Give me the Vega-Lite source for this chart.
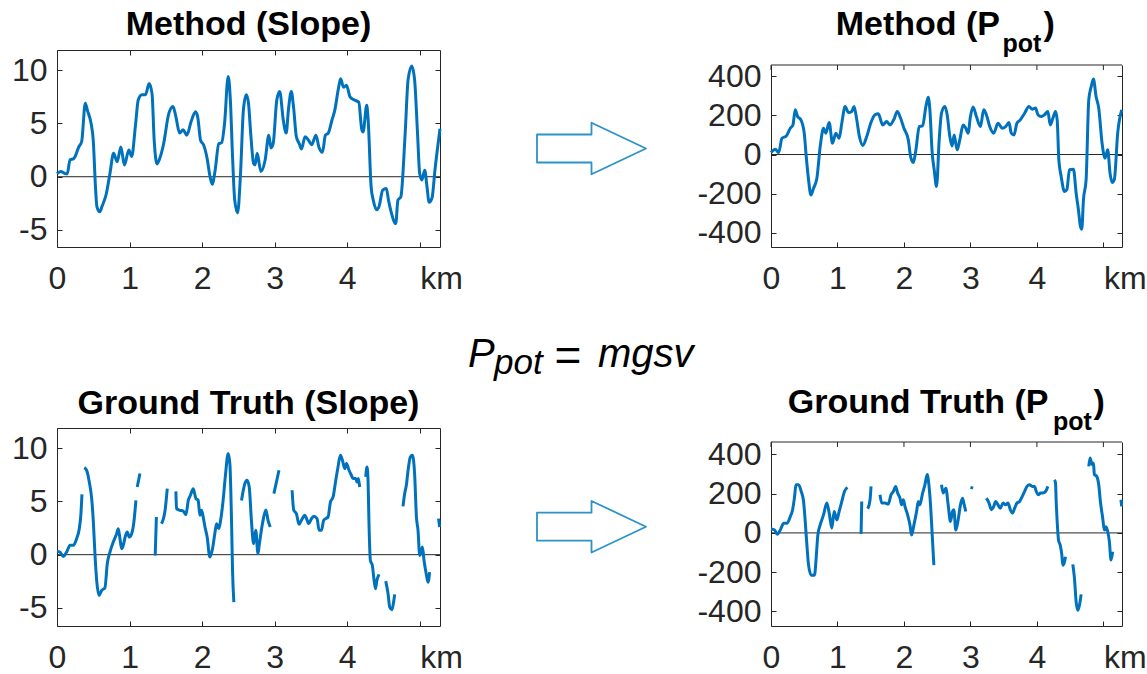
{
  "$schema": "https://vega.github.io/schema/vega-lite/v6.json",
  "background": "white",
  "padding": {"left": 11, "top": 8, "right": 0, "bottom": 0},
  "config": {
    "view": {"stroke": null},
    "axis": {"grid": false, "domainColor": "#262626", "domainWidth": 1, "tickColor": "#262626", "tickWidth": 1, "tickSize": -5, "labelColor": "#262626", "labelFont": "Liberation Sans", "labelFontSize": 32, "labelFlush": false, "labelOverlap": false, "labelBound": false}
  },
  "datasets": {
    "ms": [
      {"km":0,"v":0.3},{"km":0.05,"v":0.5},{"km":0.11,"v":0.3},{"km":0.14,"v":0.25},{"km":0.18,"v":1.6},{"km":0.23,"v":1.7},{"km":0.25,"v":1.9},{"km":0.3,"v":2.8},{"km":0.34,"v":3.3},{"km":0.39,"v":6.9},{"km":0.42,"v":6.2},{"km":0.47,"v":5.0},{"km":0.5,"v":3.4},{"km":0.53,"v":-0.9},{"km":0.55,"v":-2.8},{"km":0.59,"v":-3.3},{"km":0.62,"v":-2.8},{"km":0.68,"v":-1.6},{"km":0.73,"v":0.3},{"km":0.78,"v":2.2},{"km":0.83,"v":1.4},{"km":0.88,"v":2.8},{"km":0.93,"v":1.1},{"km":0.99,"v":2.5},{"km":1.03,"v":1.9},{"km":1.08,"v":4.7},{"km":1.12,"v":7.2},{"km":1.17,"v":7.7},{"km":1.22,"v":7.7},{"km":1.27,"v":8.75},{"km":1.31,"v":7.8},{"km":1.34,"v":3.4},{"km":1.38,"v":1.2},{"km":1.41,"v":1.6},{"km":1.47,"v":3.1},{"km":1.54,"v":5.9},{"km":1.6,"v":6.6},{"km":1.64,"v":5.6},{"km":1.69,"v":4.1},{"km":1.74,"v":4.4},{"km":1.79,"v":3.9},{"km":1.85,"v":5.2},{"km":1.91,"v":6.1},{"km":1.94,"v":5.6},{"km":1.98,"v":3.4},{"km":2.02,"v":3.0},{"km":2.07,"v":1.7},{"km":2.11,"v":0},{"km":2.14,"v":-0.7},{"km":2.18,"v":0.6},{"km":2.23,"v":3.1},{"km":2.27,"v":3.2},{"km":2.31,"v":5.0},{"km":2.36,"v":9.4},{"km":2.39,"v":7.2},{"km":2.42,"v":1.9},{"km":2.45,"v":-2.2},{"km":2.49,"v":-3.4},{"km":2.53,"v":0.3},{"km":2.57,"v":6.3},{"km":2.61,"v":7.7},{"km":2.64,"v":6.9},{"km":2.67,"v":4.1},{"km":2.71,"v":1.25},{"km":2.73,"v":1.1},{"km":2.76,"v":2.2},{"km":2.81,"v":0.5},{"km":2.87,"v":1.6},{"km":2.92,"v":3.9},{"km":2.95,"v":2.7},{"km":2.98,"v":3.1},{"km":3.03,"v":7.2},{"km":3.07,"v":8.0},{"km":3.12,"v":5.3},{"km":3.16,"v":4.1},{"km":3.19,"v":6.25},{"km":3.23,"v":8.0},{"km":3.26,"v":6.6},{"km":3.3,"v":3.75},{"km":3.34,"v":3.1},{"km":3.37,"v":2.6},{"km":3.42,"v":3.75},{"km":3.47,"v":3.4},{"km":3.51,"v":3.0},{"km":3.57,"v":3.9},{"km":3.61,"v":2.8},{"km":3.66,"v":2.3},{"km":3.7,"v":3.9},{"km":3.74,"v":4.1},{"km":3.79,"v":5.3},{"km":3.83,"v":6.25},{"km":3.88,"v":8.3},{"km":3.91,"v":9.2},{"km":3.95,"v":8.4},{"km":3.99,"v":8.6},{"km":4.04,"v":7.5},{"km":4.1,"v":7.2},{"km":4.16,"v":7.0},{"km":4.2,"v":4.5},{"km":4.22,"v":4.2},{"km":4.27,"v":6.7},{"km":4.29,"v":5.3},{"km":4.33,"v":-0.9},{"km":4.36,"v":-2.2},{"km":4.41,"v":-3.1},{"km":4.44,"v":-2.8},{"km":4.49,"v":-1.25},{"km":4.54,"v":-1.1},{"km":4.57,"v":-2.2},{"km":4.61,"v":-3.4},{"km":4.67,"v":-4.4},{"km":4.7,"v":-2.2},{"km":4.74,"v":-1.9},{"km":4.8,"v":4.1},{"km":4.84,"v":9.1},{"km":4.89,"v":10.4},{"km":4.93,"v":9.1},{"km":4.97,"v":4.1},{"km":5.0,"v":0.3},{"km":5.03,"v":-0.3},{"km":5.07,"v":0.6},{"km":5.1,"v":-0.9},{"km":5.13,"v":-2.4},{"km":5.17,"v":-2.0},{"km":5.21,"v":0.6},{"km":5.28,"v":4.5}
    ],
    "mp": [
      {"km":0,"v":10},{"km":0.065,"v":27},{"km":0.115,"v":10},{"km":0.165,"v":83},{"km":0.23,"v":95},{"km":0.29,"v":134},{"km":0.33,"v":151},{"km":0.365,"v":228},{"km":0.4,"v":194},{"km":0.45,"v":177},{"km":0.5,"v":109},{"km":0.53,"v":-10},{"km":0.565,"v":-129},{"km":0.6,"v":-206},{"km":0.64,"v":-172},{"km":0.69,"v":-121},{"km":0.74,"v":41},{"km":0.79,"v":134},{"km":0.825,"v":109},{"km":0.875,"v":163},{"km":0.925,"v":58},{"km":0.975,"v":109},{"km":1.025,"v":83},{"km":1.065,"v":160},{"km":1.115,"v":245},{"km":1.165,"v":214},{"km":1.215,"v":220},{"km":1.25,"v":245},{"km":1.29,"v":177},{"km":1.33,"v":92},{"km":1.38,"v":46},{"km":1.44,"v":92},{"km":1.5,"v":160},{"km":1.565,"v":203},{"km":1.615,"v":208},{"km":1.68,"v":151},{"km":1.74,"v":168},{"km":1.79,"v":151},{"km":1.85,"v":180},{"km":1.9,"v":220},{"km":1.95,"v":185},{"km":2.0,"v":134},{"km":2.065,"v":75},{"km":2.1,"v":-10},{"km":2.14,"v":-41},{"km":2.18,"v":24},{"km":2.23,"v":143},{"km":2.28,"v":146},{"km":2.33,"v":245},{"km":2.365,"v":293},{"km":2.39,"v":228},{"km":2.425,"v":7},{"km":2.455,"v":-78},{"km":2.49,"v":-163},{"km":2.53,"v":75},{"km":2.565,"v":211},{"km":2.615,"v":245},{"km":2.65,"v":203},{"km":2.69,"v":92},{"km":2.725,"v":44},{"km":2.755,"v":100},{"km":2.8,"v":24},{"km":2.84,"v":75},{"km":2.89,"v":151},{"km":2.93,"v":134},{"km":2.965,"v":109},{"km":3.0,"v":194},{"km":3.04,"v":242},{"km":3.09,"v":194},{"km":3.15,"v":143},{"km":3.2,"v":228},{"km":3.24,"v":203},{"km":3.29,"v":143},{"km":3.35,"v":109},{"km":3.415,"v":160},{"km":3.48,"v":134},{"km":3.53,"v":143},{"km":3.58,"v":163},{"km":3.615,"v":109},{"km":3.655,"v":100},{"km":3.7,"v":160},{"km":3.75,"v":177},{"km":3.815,"v":211},{"km":3.88,"v":245},{"km":3.93,"v":231},{"km":3.98,"v":237},{"km":4.015,"v":203},{"km":4.065,"v":194},{"km":4.115,"v":203},{"km":4.165,"v":220},{"km":4.2,"v":151},{"km":4.24,"v":185},{"km":4.28,"v":220},{"km":4.305,"v":177},{"km":4.33,"v":-27},{"km":4.365,"v":-112},{"km":4.415,"v":-189},{"km":4.45,"v":-180},{"km":4.49,"v":-78},{"km":4.55,"v":-75},{"km":4.59,"v":-197},{"km":4.625,"v":-283},{"km":4.655,"v":-368},{"km":4.675,"v":-381},{"km":4.7,"v":-231},{"km":4.74,"v":-129},{"km":4.78,"v":279},{"km":4.815,"v":344},{"km":4.85,"v":385},{"km":4.89,"v":296},{"km":4.93,"v":237},{"km":4.98,"v":58},{"km":5.025,"v":-19},{"km":5.065,"v":24},{"km":5.1,"v":-95},{"km":5.13,"v":-143},{"km":5.165,"v":-126},{"km":5.215,"v":109},{"km":5.275,"v":228}
    ],
    "gs": [
      {"km":0,"v":0.31,"s":"A"},{"km":0.04,"v":0.25,"s":"A"},{"km":0.087,"v":-0.16,"s":"A"},{"km":0.133,"v":0.25,"s":"A"},{"km":0.18,"v":0.88,"s":"A"},{"km":0.225,"v":0.88,"s":"A"},{"km":0.27,"v":1.5,"s":"A"},{"km":0.307,"v":2.44,"s":"A"},{"km":0.33,"v":3.86,"s":"A"},{"km":0.344,"v":5.67,"s":"A"},
      {"km":0.376,"v":8.18,"s":"B"},{"km":0.409,"v":7.93,"s":"B"},{"km":0.445,"v":6.83,"s":"B"},{"km":0.478,"v":5.27,"s":"B"},{"km":0.5,"v":3.23,"s":"B"},{"km":0.523,"v":0.09,"s":"B"},{"km":0.547,"v":-2.42,"s":"B"},{"km":0.579,"v":-3.83,"s":"B"},{"km":0.616,"v":-3.36,"s":"B"},{"km":0.661,"v":-3.1,"s":"B"},{"km":0.693,"v":-0.85,"s":"B"},{"km":0.73,"v":0.25,"s":"B"},{"km":0.776,"v":1.19,"s":"B"},{"km":0.822,"v":1.97,"s":"B"},{"km":0.845,"v":2.44,"s":"B"},{"km":0.868,"v":1.5,"s":"B"},{"km":0.891,"v":0.56,"s":"B"},{"km":0.913,"v":0.88,"s":"B"},{"km":0.946,"v":1.82,"s":"B"},{"km":0.968,"v":2.13,"s":"B"},{"km":0.996,"v":1.66,"s":"B"},{"km":1.029,"v":1.97,"s":"B"},{"km":1.06,"v":3.07,"s":"B"},{"km":1.088,"v":5.11,"s":"B"},
      {"km":1.106,"v":6.36,"s":"C"},{"km":1.143,"v":7.62,"s":"C"},
      {"km":1.354,"v":-0.07,"s":"D"},{"km":1.37,"v":3.54,"s":"D"},
      {"km":1.44,"v":2.9,"s":"E"},{"km":1.49,"v":4.17,"s":"E"},{"km":1.52,"v":6.2,"s":"E"},
      {"km":1.639,"v":5.95,"s":"F"},{"km":1.648,"v":4.33,"s":"F"},{"km":1.694,"v":4.17,"s":"F"},{"km":1.74,"v":4.1,"s":"F"},{"km":1.777,"v":3.76,"s":"F"},{"km":1.81,"v":5.1,"s":"F"},{"km":1.84,"v":5.58,"s":"F"},{"km":1.878,"v":6.2,"s":"F"},{"km":1.915,"v":5.27,"s":"F"},{"km":1.946,"v":5.1,"s":"F"},{"km":1.97,"v":3.7,"s":"F"},{"km":1.993,"v":4.17,"s":"F"},{"km":2.015,"v":3.55,"s":"F"},{"km":2.04,"v":2.6,"s":"F"},{"km":2.07,"v":1.66,"s":"F"},{"km":2.107,"v":-0.22,"s":"F"},{"km":2.144,"v":0.56,"s":"F"},{"km":2.176,"v":2.0,"s":"F"},{"km":2.2,"v":2.9,"s":"F"},{"km":2.23,"v":2.45,"s":"F"},{"km":2.255,"v":3.2,"s":"F"},{"km":2.29,"v":5.1,"s":"F"},{"km":2.32,"v":7.3,"s":"F"},{"km":2.36,"v":9.5,"s":"F"},{"km":2.383,"v":8.56,"s":"F"},{"km":2.406,"v":3.2,"s":"F"},{"km":2.42,"v":-1.48,"s":"F"},{"km":2.438,"v":-4.46,"s":"F"},
      {"km":2.544,"v":5.1,"s":"G"},{"km":2.59,"v":6.68,"s":"G"},{"km":2.62,"v":6.99,"s":"G"},{"km":2.65,"v":6.36,"s":"G"},{"km":2.68,"v":3.23,"s":"G"},{"km":2.71,"v":1.03,"s":"G"},{"km":2.74,"v":2.29,"s":"G"},{"km":2.77,"v":0.1,"s":"G"},{"km":2.79,"v":1.03,"s":"G"},{"km":2.84,"v":3.2,"s":"G"},{"km":2.88,"v":4.2,"s":"G"},{"km":2.91,"v":3.2,"s":"G"},{"km":2.94,"v":2.6,"s":"G"},
      {"km":2.99,"v":5.74,"s":"H"},{"km":3.06,"v":7.93,"s":"H"},
      {"km":3.241,"v":6.05,"s":"I"},{"km":3.264,"v":4.17,"s":"I"},{"km":3.3,"v":3.86,"s":"I"},{"km":3.337,"v":2.85,"s":"I"},{"km":3.37,"v":3.23,"s":"I"},{"km":3.416,"v":3.7,"s":"I"},{"km":3.44,"v":3.39,"s":"I"},{"km":3.47,"v":2.92,"s":"I"},{"km":3.508,"v":3.39,"s":"I"},{"km":3.54,"v":3.6,"s":"I"},{"km":3.585,"v":3.39,"s":"I"},{"km":3.613,"v":2.29,"s":"I"},{"km":3.645,"v":2.29,"s":"I"},{"km":3.677,"v":3.23,"s":"I"},{"km":3.705,"v":3.39,"s":"I"},{"km":3.737,"v":3.54,"s":"I"},{"km":3.77,"v":4.95,"s":"I"},{"km":3.806,"v":5.42,"s":"I"},{"km":3.843,"v":6.99,"s":"I"},{"km":3.874,"v":8.24,"s":"I"},{"km":3.907,"v":9.34,"s":"I"},{"km":3.935,"v":8.87,"s":"I"},{"km":3.967,"v":8.09,"s":"I"},{"km":3.99,"v":8.56,"s":"I"},{"km":4.026,"v":7.93,"s":"I"},{"km":4.058,"v":7.46,"s":"I"},{"km":4.08,"v":7.15,"s":"I"},{"km":4.118,"v":7.15,"s":"I"},{"km":4.136,"v":6.83,"s":"I"},{"km":4.155,"v":7.15,"s":"I"},{"km":4.173,"v":6.36,"s":"I"},
      {"km":4.256,"v":7.3,"s":"J"},{"km":4.274,"v":8.24,"s":"J"},{"km":4.288,"v":6.99,"s":"J"},{"km":4.3,"v":3.23,"s":"J"},{"km":4.32,"v":-0.54,"s":"J"},{"km":4.347,"v":-1.0,"s":"J"},{"km":4.366,"v":-2.1,"s":"J"},{"km":4.39,"v":-3.2,"s":"J"},{"km":4.41,"v":-2.42,"s":"J"},{"km":4.44,"v":-1.85,"s":"J"},
      {"km":4.532,"v":-2.48,"s":"K"},{"km":4.564,"v":-3.67,"s":"K"},{"km":4.587,"v":-4.93,"s":"K"},{"km":4.618,"v":-5.17,"s":"K"},{"km":4.64,"v":-4.46,"s":"K"},{"km":4.655,"v":-3.73,"s":"K"},
      {"km":4.77,"v":4.54,"s":"L"},{"km":4.793,"v":5.74,"s":"L"},{"km":4.816,"v":6.52,"s":"L"},{"km":4.84,"v":7.93,"s":"L"},{"km":4.871,"v":9.18,"s":"L"},{"km":4.899,"v":9.34,"s":"L"},{"km":4.93,"v":7.62,"s":"L"},{"km":4.955,"v":3.54,"s":"L"},{"km":4.977,"v":2.29,"s":"L"},{"km":5.0,"v":-0.07,"s":"L"},{"km":5.024,"v":0.4,"s":"L"},{"km":5.037,"v":0.71,"s":"L"},{"km":5.06,"v":-0.54,"s":"L"},{"km":5.09,"v":-1.79,"s":"L"},{"km":5.115,"v":-2.58,"s":"L"},{"km":5.137,"v":-1.64,"s":"L"},
      {"km":5.26,"v":3.39,"s":"M"},{"km":5.275,"v":2.6,"s":"M"}
    ],
    "gp": [
      {"km":0,"v":20,"s":"A"},{"km":0.054,"v":15,"s":"A"},{"km":0.095,"v":-7,"s":"A"},{"km":0.14,"v":15,"s":"A"},{"km":0.19,"v":49,"s":"A"},{"km":0.24,"v":49,"s":"A"},{"km":0.29,"v":83,"s":"A"},{"km":0.325,"v":118,"s":"A"},{"km":0.355,"v":186,"s":"A"},{"km":0.375,"v":245,"s":"A"},{"km":0.415,"v":245,"s":"A"},{"km":0.455,"v":211,"s":"A"},{"km":0.49,"v":160,"s":"A"},{"km":0.515,"v":58,"s":"A"},{"km":0.54,"v":-61,"s":"A"},{"km":0.565,"v":-164,"s":"A"},{"km":0.605,"v":-215,"s":"A"},{"km":0.655,"v":-215,"s":"A"},{"km":0.675,"v":-147,"s":"A"},{"km":0.705,"v":-10,"s":"A"},{"km":0.74,"v":41,"s":"A"},{"km":0.79,"v":92,"s":"A"},{"km":0.84,"v":152,"s":"A"},{"km":0.88,"v":92,"s":"A"},{"km":0.915,"v":24,"s":"A"},{"km":0.95,"v":109,"s":"A"},{"km":0.99,"v":66,"s":"A"},{"km":1.025,"v":109,"s":"A"},{"km":1.065,"v":160,"s":"A"},{"km":1.105,"v":211,"s":"A"},{"km":1.15,"v":232,"s":"A"},
      {"km":1.355,"v":-5,"s":"B"},{"km":1.365,"v":160,"s":"B"},
      {"km":1.455,"v":123,"s":"C"},{"km":1.49,"v":169,"s":"C"},{"km":1.505,"v":237,"s":"C"},
      {"km":1.64,"v":194,"s":"D"},{"km":1.665,"v":152,"s":"D"},{"km":1.715,"v":152,"s":"D"},{"km":1.765,"v":147,"s":"D"},{"km":1.805,"v":194,"s":"D"},{"km":1.84,"v":211,"s":"D"},{"km":1.875,"v":237,"s":"D"},{"km":1.905,"v":203,"s":"D"},{"km":1.94,"v":177,"s":"D"},{"km":1.965,"v":143,"s":"D"},{"km":1.99,"v":169,"s":"D"},{"km":2.015,"v":135,"s":"D"},{"km":2.055,"v":92,"s":"D"},{"km":2.09,"v":41,"s":"D"},{"km":2.115,"v":-10,"s":"D"},{"km":2.15,"v":41,"s":"D"},{"km":2.19,"v":109,"s":"D"},{"km":2.215,"v":160,"s":"D"},{"km":2.24,"v":143,"s":"D"},{"km":2.275,"v":194,"s":"D"},{"km":2.315,"v":245,"s":"D"},{"km":2.35,"v":297,"s":"D"},{"km":2.375,"v":245,"s":"D"},{"km":2.4,"v":143,"s":"D"},{"km":2.425,"v":-10,"s":"D"},{"km":2.45,"v":-164,"s":"D"},
      {"km":2.565,"v":245,"s":"E"},{"km":2.59,"v":203,"s":"E"},{"km":2.63,"v":228,"s":"E"},{"km":2.665,"v":143,"s":"E"},{"km":2.7,"v":58,"s":"E"},{"km":2.73,"v":109,"s":"E"},{"km":2.75,"v":118,"s":"E"},{"km":2.78,"v":15,"s":"E"},{"km":2.815,"v":66,"s":"E"},{"km":2.85,"v":143,"s":"E"},{"km":2.88,"v":177,"s":"E"},{"km":2.9,"v":152,"s":"E"},{"km":2.93,"v":109,"s":"E"},
      {"km":3.0,"v":232,"s":"F"},{"km":3.04,"v":228,"s":"F"},
      {"km":3.24,"v":177,"s":"G"},{"km":3.28,"v":152,"s":"G"},{"km":3.315,"v":118,"s":"G"},{"km":3.35,"v":135,"s":"G"},{"km":3.38,"v":160,"s":"G"},{"km":3.415,"v":143,"s":"G"},{"km":3.45,"v":126,"s":"G"},{"km":3.49,"v":152,"s":"G"},{"km":3.53,"v":143,"s":"G"},{"km":3.565,"v":152,"s":"G"},{"km":3.6,"v":118,"s":"G"},{"km":3.63,"v":101,"s":"G"},{"km":3.665,"v":126,"s":"G"},{"km":3.7,"v":152,"s":"G"},{"km":3.74,"v":160,"s":"G"},{"km":3.78,"v":186,"s":"G"},{"km":3.815,"v":211,"s":"G"},{"km":3.85,"v":237,"s":"G"},{"km":3.89,"v":245,"s":"G"},{"km":3.93,"v":237,"s":"G"},{"km":3.965,"v":237,"s":"G"},{"km":3.99,"v":211,"s":"G"},{"km":4.025,"v":194,"s":"G"},{"km":4.055,"v":203,"s":"G"},{"km":4.09,"v":203,"s":"G"},{"km":4.13,"v":211,"s":"G"},{"km":4.165,"v":237,"s":"G"},
      {"km":4.265,"v":271,"s":"H"},{"km":4.28,"v":254,"s":"H"},{"km":4.29,"v":160,"s":"H"},{"km":4.305,"v":58,"s":"H"},{"km":4.325,"v":-36,"s":"H"},{"km":4.35,"v":-61,"s":"H"},{"km":4.375,"v":-112,"s":"H"},{"km":4.39,"v":-164,"s":"H"},{"km":4.415,"v":-147,"s":"H"},{"km":4.43,"v":-121,"s":"H"},
      {"km":4.54,"v":-160,"s":"I"},{"km":4.565,"v":-232,"s":"I"},{"km":4.59,"v":-351,"s":"I"},{"km":4.615,"v":-394,"s":"I"},{"km":4.64,"v":-368,"s":"I"},{"km":4.665,"v":-313,"s":"I"},
      {"km":4.78,"v":339,"s":"J"},{"km":4.8,"v":382,"s":"J"},{"km":4.83,"v":348,"s":"J"},{"km":4.85,"v":356,"s":"J"},{"km":4.865,"v":297,"s":"J"},{"km":4.9,"v":288,"s":"J"},{"km":4.93,"v":245,"s":"J"},{"km":4.955,"v":160,"s":"J"},{"km":4.99,"v":75,"s":"J"},{"km":5.015,"v":15,"s":"J"},{"km":5.04,"v":32,"s":"J"},{"km":5.065,"v":7,"s":"J"},{"km":5.09,"v":-44,"s":"J"},{"km":5.115,"v":-138,"s":"J"},{"km":5.14,"v":-95,"s":"J"},
      {"km":5.265,"v":169,"s":"K"},{"km":5.275,"v":135,"s":"K"}
    ]
  },
  "concat": [
    {
      "width": 383, "height": 197,
      "layer": [
        {"data": {"values": [{}]}, "mark": {"type": "rule", "color": "#262626", "strokeWidth": 1},
         "encoding": {"y": {"datum": 0, "type": "quantitative", "scale": {"domain": [-6.6, 11.9], "nice": false, "zero": false}, "axis": null}}},
        {"data": {"name": "ms"}, "mark": {"type": "line", "color": "#0072BD", "strokeWidth": 3, "interpolate": "monotone"},
         "encoding": {
           "x": {"field": "km", "type": "quantitative", "scale": {"domain": [0, 5.28], "nice": false, "zero": false}, "axis": {"orient": "bottom", "title": null, "values": [0,1,2,3,4,5], "labelExpr": "datum.value == 5 ? 'km' : datum.label", "labelAlign": {"condition": {"test": "datum.value == 5", "value": "left"}, "value": "center"}, "labelPadding": 21}},
           "y": {"field": "v", "type": "quantitative", "scale": {"domain": [-6.6, 11.9], "nice": false, "zero": false}, "axis": {"orient": "left", "title": null, "values": [-5,0,5,10], "labelExpr": "'' + datum.value", "labelPadding": 15}}}},
        {"data": {"values": [{}]}, "mark": {"type": "text", "text": "Method (Slope)", "font": "Liberation Sans", "fontSize": 34, "fontWeight": "bold", "align": "center", "baseline": "alphabetic", "dy": -15, "color": "#000000"},
         "encoding": {
           "x": {"datum": 2.64, "type": "quantitative", "scale": {"domain": [0, 5.28], "nice": false, "zero": false}, "axis": {"orient": "top", "title": null, "values": [0,1,2,3,4,5], "labels": false}},
           "y": {"datum": 11.9, "type": "quantitative", "scale": {"domain": [-6.6, 11.9], "nice": false, "zero": false}, "axis": {"orient": "right", "title": null, "values": [-5,0,5,10], "labels": false}}}}
      ],
      "resolve": {"axis": {"x": "independent", "y": "independent"}}
    },
    {
      "width": 331, "height": 197,
      "data": {"values": [{}]},
      "layer": [
        {"mark": {"type": "point", "shape": "M-1,-0.257L0,-0.257L0,-0.4725L1,0L0,0.4725L0,0.257L-1,0.257Z", "size": 11881, "filled": false, "stroke": "#2b93c8", "strokeWidth": 1.8, "strokeJoin": "round", "opacity": 1},
         "encoding": {"x": {"datum": 0.4577, "type": "quantitative", "scale": {"domain": [0, 1], "nice": false, "zero": false}, "axis": null}, "y": {"datum": 0.5, "type": "quantitative", "scale": {"domain": [0, 1], "nice": false, "zero": false}, "axis": null}}},
        {"mark": {"type": "text", "text": "P", "font": "Liberation Sans", "fontStyle": "italic", "fontSize": 40, "align": "left", "baseline": "alphabetic", "color": "#000000"},
         "encoding": {"x": {"datum": 0.0846, "type": "quantitative", "scale": {"domain": [0, 1], "nice": false, "zero": false}, "axis": null}, "y": {"datum": -0.609, "type": "quantitative", "scale": {"domain": [0, 1], "nice": false, "zero": false}, "axis": null}}},
        {"mark": {"type": "text", "text": "pot", "font": "Liberation Sans", "fontStyle": "italic", "fontSize": 35, "align": "left", "baseline": "alphabetic", "color": "#000000"},
         "encoding": {"x": {"datum": 0.163, "type": "quantitative", "scale": {"domain": [0, 1], "nice": false, "zero": false}, "axis": null}, "y": {"datum": -0.645, "type": "quantitative", "scale": {"domain": [0, 1], "nice": false, "zero": false}, "axis": null}}},
        {"mark": {"type": "text", "text": "=", "font": "Liberation Sans", "fontSize": 46, "align": "center", "baseline": "alphabetic", "color": "#000000"},
         "encoding": {"x": {"datum": 0.3867, "type": "quantitative", "scale": {"domain": [0, 1], "nice": false, "zero": false}, "axis": null}, "y": {"datum": -0.629, "type": "quantitative", "scale": {"domain": [0, 1], "nice": false, "zero": false}, "axis": null}}},
        {"mark": {"type": "text", "text": "mgsv", "font": "Liberation Sans", "fontStyle": "italic", "fontSize": 40, "align": "left", "baseline": "alphabetic", "color": "#000000"},
         "encoding": {"x": {"datum": 0.4773, "type": "quantitative", "scale": {"domain": [0, 1], "nice": false, "zero": false}, "axis": null}, "y": {"datum": -0.609, "type": "quantitative", "scale": {"domain": [0, 1], "nice": false, "zero": false}, "axis": null}}}
      ]
    },
    {
      "width": 351, "height": 197,
      "layer": [
        {"data": {"values": [{}]}, "mark": {"type": "rule", "color": "#262626", "strokeWidth": 1},
         "encoding": {"y": {"datum": 0, "type": "quantitative", "scale": {"domain": [-472, 457], "range": [197, 15], "nice": false, "zero": false}, "axis": null}}},
        {"data": {"values": [{}]}, "mark": {"type": "rule", "color": "#262626", "strokeWidth": 1},
         "encoding": {"y": {"datum": 457, "type": "quantitative", "scale": {"domain": [-472, 457], "range": [197, 15], "nice": false, "zero": false}, "axis": null}}},
        {"data": {"values": [{"t":0},{"t":1},{"t":2},{"t":3},{"t":4},{"t":5}]}, "mark": {"type": "rule", "color": "#262626", "strokeWidth": 1, "y2Offset": 5},
         "encoding": {"x": {"field": "t", "type": "quantitative", "scale": {"domain": [0, 5.28], "nice": false, "zero": false}, "axis": null},
           "y": {"datum": 457, "type": "quantitative", "scale": {"domain": [-472, 457], "range": [197, 15], "nice": false, "zero": false}, "axis": null},
           "y2": {"datum": 457}}},
        {"data": {"name": "mp"}, "mark": {"type": "line", "color": "#0072BD", "strokeWidth": 3, "interpolate": "monotone"},
         "encoding": {
           "x": {"field": "km", "type": "quantitative", "scale": {"domain": [0, 5.28], "nice": false, "zero": false}, "axis": {"orient": "bottom", "title": null, "values": [0,1,2,3,4,5], "labelExpr": "datum.value == 5 ? 'km' : datum.label", "labelAlign": {"condition": {"test": "datum.value == 5", "value": "left"}, "value": "center"}, "labelPadding": 21}},
           "y": {"field": "v", "type": "quantitative", "scale": {"domain": [-472, 457], "range": [197, 15], "nice": false, "zero": false}, "axis": {"orient": "left", "title": null, "values": [-400,-200,0,200,400], "labelExpr": "'' + datum.value", "labelPadding": 15}}}},
        {"data": {"values": [{}]}, "mark": {"type": "text", "text": "Method (P", "font": "Liberation Sans", "fontSize": 34, "fontWeight": "bold", "align": "right", "baseline": "alphabetic", "dx": 53.5, "dy": -30, "color": "#000000"},
         "encoding": {
           "x": {"datum": 2.64, "type": "quantitative", "scale": {"domain": [0, 5.28], "nice": false, "zero": false}, "axis": null},
           "y": {"datum": 457, "type": "quantitative", "scale": {"domain": [-472, 457], "range": [197, 15], "nice": false, "zero": false}, "axis": {"orient": "right", "title": null, "values": [-400,-200,0,200,400], "labels": false}}}},
        {"data": {"values": [{}]}, "mark": {"type": "text", "text": "pot", "font": "Liberation Sans", "fontSize": 25, "fontWeight": "bold", "align": "left", "baseline": "alphabetic", "dx": 56, "dy": -13, "color": "#000000"},
         "encoding": {
           "x": {"datum": 2.64, "type": "quantitative", "scale": {"domain": [0, 5.28], "nice": false, "zero": false}, "axis": null},
           "y": {"datum": 457, "type": "quantitative", "scale": {"domain": [-472, 457], "range": [197, 15], "nice": false, "zero": false}, "axis": null}}},
        {"data": {"values": [{}]}, "mark": {"type": "text", "text": ")", "font": "Liberation Sans", "fontSize": 34, "fontWeight": "bold", "align": "left", "baseline": "alphabetic", "dx": 97, "dy": -30, "color": "#000000"},
         "encoding": {
           "x": {"datum": 2.64, "type": "quantitative", "scale": {"domain": [0, 5.28], "nice": false, "zero": false}, "axis": null},
           "y": {"datum": 457, "type": "quantitative", "scale": {"domain": [-472, 457], "range": [197, 15], "nice": false, "zero": false}, "axis": null}}}
      ],
      "resolve": {"axis": {"x": "independent", "y": "independent"}}
    },
    {
      "width": 383, "height": 198,
      "layer": [
        {"data": {"values": [{}]}, "mark": {"type": "rule", "color": "#262626", "strokeWidth": 1},
         "encoding": {"y": {"datum": 0, "type": "quantitative", "scale": {"domain": [-6.7, 11.9], "nice": false, "zero": false}, "axis": null}}},
        {"data": {"name": "gs"}, "mark": {"type": "line", "color": "#0072BD", "strokeWidth": 3, "interpolate": "monotone"},
         "encoding": {
           "detail": {"field": "s"},
           "x": {"field": "km", "type": "quantitative", "scale": {"domain": [0, 5.28], "nice": false, "zero": false}, "axis": {"orient": "bottom", "title": null, "values": [0,1,2,3,4,5], "labelExpr": "datum.value == 5 ? 'km' : datum.label", "labelAlign": {"condition": {"test": "datum.value == 5", "value": "left"}, "value": "center"}, "labelPadding": 21}},
           "y": {"field": "v", "type": "quantitative", "scale": {"domain": [-6.7, 11.9], "nice": false, "zero": false}, "axis": {"orient": "left", "title": null, "values": [-5,0,5,10], "labelExpr": "'' + datum.value", "labelPadding": 15}}}},
        {"data": {"values": [{}]}, "mark": {"type": "text", "text": "Ground Truth (Slope)", "font": "Liberation Sans", "fontSize": 34, "fontWeight": "bold", "align": "center", "baseline": "alphabetic", "dy": -14.4, "color": "#000000"},
         "encoding": {
           "x": {"datum": 2.64, "type": "quantitative", "scale": {"domain": [0, 5.28], "nice": false, "zero": false}, "axis": {"orient": "top", "title": null, "values": [0,1,2,3,4,5], "labels": false}},
           "y": {"datum": 11.9, "type": "quantitative", "scale": {"domain": [-6.7, 11.9], "nice": false, "zero": false}, "axis": {"orient": "right", "title": null, "values": [-5,0,5,10], "labels": false}}}}
      ],
      "resolve": {"axis": {"x": "independent", "y": "independent"}}
    },
    {
      "width": 331, "height": 198,
      "data": {"values": [{}]},
      "mark": {"type": "point", "shape": "M-1,-0.257L0,-0.257L0,-0.4725L1,0L0,0.4725L0,0.257L-1,0.257Z", "size": 11881, "filled": false, "stroke": "#2b93c8", "strokeWidth": 1.8, "strokeJoin": "round", "opacity": 1},
      "encoding": {"x": {"datum": 0.4577, "type": "quantitative", "scale": {"domain": [0, 1], "nice": false, "zero": false}, "axis": null}, "y": {"datum": 0.5015, "type": "quantitative", "scale": {"domain": [0, 1], "nice": false, "zero": false}, "axis": null}}
    },
    {
      "width": 351, "height": 198,
      "layer": [
        {"data": {"values": [{}]}, "mark": {"type": "rule", "color": "#262626", "strokeWidth": 1},
         "encoding": {"y": {"datum": 0, "type": "quantitative", "scale": {"domain": [-474, 463], "range": [198, 14], "nice": false, "zero": false}, "axis": null}}},
        {"data": {"values": [{}]}, "mark": {"type": "rule", "color": "#262626", "strokeWidth": 1},
         "encoding": {"y": {"datum": 463, "type": "quantitative", "scale": {"domain": [-474, 463], "range": [198, 14], "nice": false, "zero": false}, "axis": null}}},
        {"data": {"values": [{"t":0},{"t":1},{"t":2},{"t":3},{"t":4},{"t":5}]}, "mark": {"type": "rule", "color": "#262626", "strokeWidth": 1, "y2Offset": 5},
         "encoding": {"x": {"field": "t", "type": "quantitative", "scale": {"domain": [0, 5.28], "nice": false, "zero": false}, "axis": null},
           "y": {"datum": 463, "type": "quantitative", "scale": {"domain": [-474, 463], "range": [198, 14], "nice": false, "zero": false}, "axis": null},
           "y2": {"datum": 463}}},
        {"data": {"name": "gp"}, "mark": {"type": "line", "color": "#0072BD", "strokeWidth": 3, "interpolate": "monotone"},
         "encoding": {
           "detail": {"field": "s"},
           "x": {"field": "km", "type": "quantitative", "scale": {"domain": [0, 5.28], "nice": false, "zero": false}, "axis": {"orient": "bottom", "title": null, "values": [0,1,2,3,4,5], "labelExpr": "datum.value == 5 ? 'km' : datum.label", "labelAlign": {"condition": {"test": "datum.value == 5", "value": "left"}, "value": "center"}, "labelPadding": 21}},
           "y": {"field": "v", "type": "quantitative", "scale": {"domain": [-474, 463], "range": [198, 14], "nice": false, "zero": false}, "axis": {"orient": "left", "title": null, "values": [-400,-200,0,200,400], "labelExpr": "'' + datum.value", "labelPadding": 15}}}},
        {"data": {"values": [{}]}, "mark": {"type": "text", "text": "Ground Truth (P", "font": "Liberation Sans", "fontSize": 34, "fontWeight": "bold", "align": "right", "baseline": "alphabetic", "dx": 102, "dy": -29, "color": "#000000"},
         "encoding": {
           "x": {"datum": 2.64, "type": "quantitative", "scale": {"domain": [0, 5.28], "nice": false, "zero": false}, "axis": null},
           "y": {"datum": 463, "type": "quantitative", "scale": {"domain": [-474, 463], "range": [198, 14], "nice": false, "zero": false}, "axis": {"orient": "right", "title": null, "values": [-400,-200,0,200,400], "labels": false}}}},
        {"data": {"values": [{}]}, "mark": {"type": "text", "text": "pot", "font": "Liberation Sans", "fontSize": 25, "fontWeight": "bold", "align": "left", "baseline": "alphabetic", "dx": 106.5, "dy": -12, "color": "#000000"},
         "encoding": {
           "x": {"datum": 2.64, "type": "quantitative", "scale": {"domain": [0, 5.28], "nice": false, "zero": false}, "axis": null},
           "y": {"datum": 463, "type": "quantitative", "scale": {"domain": [-474, 463], "range": [198, 14], "nice": false, "zero": false}, "axis": null}}},
        {"data": {"values": [{}]}, "mark": {"type": "text", "text": ")", "font": "Liberation Sans", "fontSize": 34, "fontWeight": "bold", "align": "left", "baseline": "alphabetic", "dx": 147, "dy": -29, "color": "#000000"},
         "encoding": {
           "x": {"datum": 2.64, "type": "quantitative", "scale": {"domain": [0, 5.28], "nice": false, "zero": false}, "axis": null},
           "y": {"datum": 463, "type": "quantitative", "scale": {"domain": [-474, 463], "range": [198, 14], "nice": false, "zero": false}, "axis": null}}}
      ],
      "resolve": {"axis": {"x": "independent", "y": "independent"}}
    }
  ],
  "columns": 3,
  "spacing": {"row": 181, "column": 0},
  "bounds": "flush"
}
